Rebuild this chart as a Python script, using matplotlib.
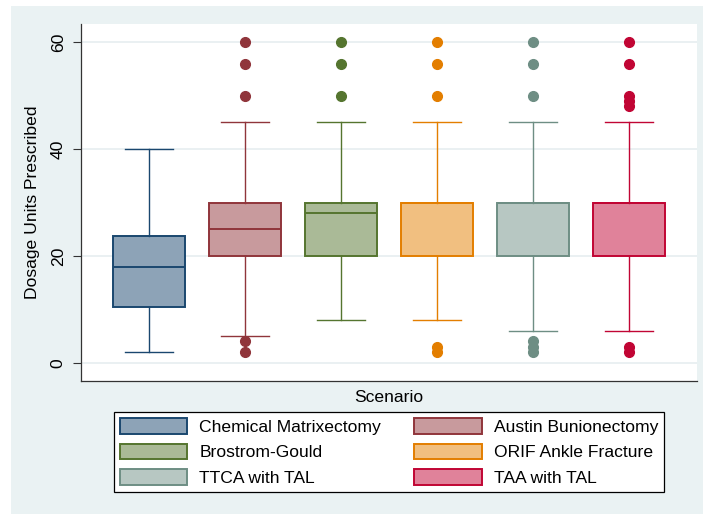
import matplotlib
matplotlib.use("Agg")
import matplotlib.pyplot as plt
from matplotlib.colors import to_rgb
from matplotlib.patches import Patch, Rectangle

plt.rcParams['font.family'] = ['Liberation Sans', 'DejaVu Sans']

# data: box statistics
scenarios = ["Chemical Matrixectomy", "Austin Bunionectomy", "Brostrom-Gould",
             "ORIF Ankle Fracture", "TTCA with TAL", "TAA with TAL"]
whislo = [2, 5, 8, 8, 6, 6]
q1     = [10.5, 20, 20, 20, 20, 20]
med    = [18, 25, 28, 30, 30, 30]
q3     = [23.8, 30, 30, 30, 30, 30]
whishi = [40, 45, 45, 45, 45, 45]
fliers = [[],
          [2, 4, 50, 56, 60],
          [50, 56, 60],
          [2, 3, 50, 56, 60],
          [2, 3, 4, 50, 56, 60],
          [2, 3, 48, 49, 50, 56, 60]]

edge_colors = ["#1a476f", "#90353b", "#55752f", "#e37e00", "#6e8e84", "#c10534"]
bg = "#eaf2f3"
fs = 12.6


def light(c):
    r, g, b = to_rgb(c)
    return ((r + 1) / 2, (g + 1) / 2, (b + 1) / 2)


W, H = 703, 514
fig = plt.figure(figsize=(W / 100, H / 100), dpi=100, facecolor="white")
fig.patches.append(Rectangle((11 / W, 0), 1 - 11 / W, 1 - 6 / H,
                             transform=fig.transFigure, facecolor=bg,
                             edgecolor="none", zorder=-10))

ax = fig.add_axes([81 / W, (H - 381) / H, 616 / W, 357 / H])
ax.set_facecolor("white")

for i in range(len(scenarios)):
    c = edge_colors[i]
    st = dict(whislo=whislo[i], q1=q1[i], med=med[i], q3=q3[i],
              whishi=whishi[i], fliers=fliers[i])
    ax.bxp([st], positions=[i + 1], widths=0.75, capwidths=0.5,
           patch_artist=True, showfliers=True,
           boxprops=dict(facecolor=light(c), edgecolor=c, linewidth=1.4),
           medianprops=dict(color=c, linewidth=1.4),
           whiskerprops=dict(color=c, linewidth=1.0),
           capprops=dict(color=c, linewidth=1.0),
           flierprops=dict(marker='o', markerfacecolor=c, markeredgecolor=c,
                           markersize=7))

ax.set_xlim(0.29, 6.71)
ax.set_ylim(-3.4, 63.4)
ax.set_xticks([])
ax.set_yticks([0, 20, 40, 60])
ax.set_yticklabels(["0", "20", "40", "60"], rotation=90, va="center", fontsize=fs)
ax.tick_params(axis="y", length=6, width=0.8, color="#333333", pad=5)
ax.grid(axis="y", color="#e6eef0", linewidth=1.2)
ax.set_axisbelow(True)
for s in ["top", "right"]:
    ax.spines[s].set_visible(False)
for s in ["left", "bottom"]:
    ax.spines[s].set_color("#333333")
    ax.spines[s].set_linewidth(0.9)
ax.set_ylabel("Dosage Units Prescribed", fontsize=fs, labelpad=8)

fig.text(389 / W, 1 - 397 / H, "Scenario", ha="center", va="center", fontsize=fs)

handles = [Patch(facecolor=light(c), edgecolor=c, linewidth=1.4, label=lab)
           for c, lab in zip(edge_colors, scenarios)]
order = [0, 2, 4, 1, 3, 5]
leg = fig.legend([handles[k] for k in order], [scenarios[k] for k in order],
                 ncol=2, loc="center", bbox_to_anchor=(389 / W, 1 - 452 / H),
                 fontsize=fs, frameon=True, fancybox=False, framealpha=1,
                 edgecolor="black", handlelength=3.85, handleheight=0.98,
                 handletextpad=0.69, columnspacing=1.9, labelspacing=0.5,
                 borderpad=0.33, borderaxespad=0)
leg.get_frame().set_linewidth(0.9)

fig.savefig("out.png", dpi=100, facecolor=fig.get_facecolor())
